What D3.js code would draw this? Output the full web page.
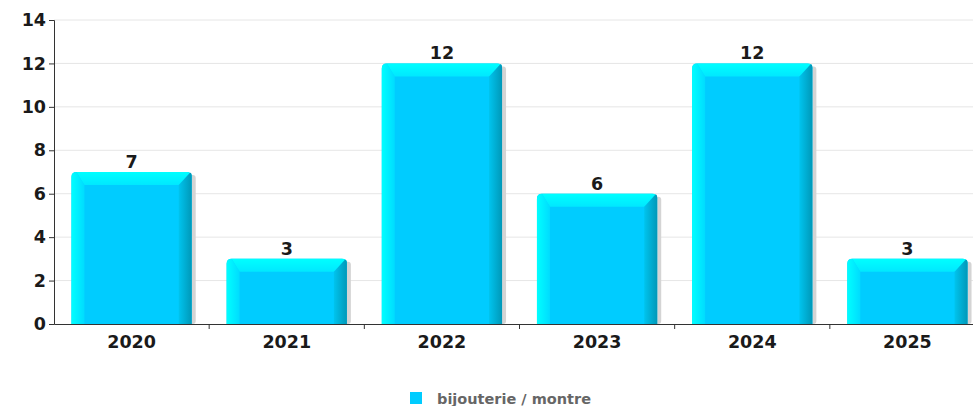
<!DOCTYPE html>
<html>
<head>
<meta charset="utf-8">
<script src="https://cdn.jsdelivr.net/npm/d3@7"></script>
<style>
  body { margin: 0; background: #fff; overflow: hidden; }
  text { font-family: "DejaVu Sans", sans-serif; }
</style>
</head>
<body>
<svg id="chart" width="973" height="406"></svg>
<script>
const categories = ['2020', '2021', '2022', '2023', '2024', '2025'];
const values = [7, 3, 12, 6, 12, 3];
const yTicks = [0, 2, 4, 6, 8, 10, 12, 14];
const seriesName = 'bijouterie / montre';

(function () {
  const svg = d3.select('#chart');
  const defs = svg.append('defs');

  // plot area (runs a little past the right edge, as in the original)
  const pLeft = 54, pTop = 20, pBottom = 324, pRight = 985;
  const fs = 17.5;

  const x = d3.scaleBand().domain(categories).range([pLeft, pRight]).paddingInner(0.225).paddingOuter(0.1125);
  const y = d3.scaleLinear().domain([0, 14]).range([pBottom, pTop]);

  // gradients for the bevel
  const gLeft = defs.append('linearGradient').attr('id', 'gl').attr('x1', 0).attr('x2', 1);
  gLeft.append('stop').attr('offset', 0).attr('stop-color', '#00ffff');
  gLeft.append('stop').attr('offset', 1).attr('stop-color', '#00dcff');
  const gRight = defs.append('linearGradient').attr('id', 'gr').attr('x1', 0).attr('x2', 1);
  gRight.append('stop').attr('offset', 0).attr('stop-color', '#00c4ee');
  gRight.append('stop').attr('offset', 1).attr('stop-color', '#0098b8');
  const gTop = defs.append('linearGradient').attr('id', 'gt').attr('x1', 0).attr('x2', 0).attr('y1', 0).attr('y2', 1);
  gTop.append('stop').attr('offset', 0).attr('stop-color', '#00ffff');
  gTop.append('stop').attr('offset', 1).attr('stop-color', '#00e8ff');

  // grid
  svg.append('g').selectAll('line')
    .data(yTicks.filter(d => d > 0))
    .join('line')
    .attr('x1', pLeft).attr('x2', 973)
    .attr('y1', d => y(d)).attr('y2', d => y(d))
    .attr('stroke', '#e6e6e6').attr('stroke-width', 1);

  // y axis
  const yAxis = svg.append('g')
    .attr('transform', `translate(${pLeft},0)`)
    .call(d3.axisLeft(y).tickValues(yTicks).tickSize(5).tickPadding(3));
  yAxis.select('.domain').attr('stroke', '#333');
  yAxis.selectAll('.tick line').attr('stroke', '#333');
  yAxis.selectAll('text').attr('font-size', fs).attr('font-weight', 'bold')
    .attr('fill', '#1a1a1a').attr('font-family', '"DejaVu Sans", sans-serif');

  // bars
  const b = 13;
  const bars = svg.append('g').selectAll('g')
    .data(categories.map((c, i) => ({ c, v: values[i] })))
    .join('g');

  bars.each(function (d) {
    const g = d3.select(this);
    const x0 = x(d.c), w = x.bandwidth(), y0 = y(d.v), y1 = y(0);
    // shadow
    g.append('rect')
      .attr('x', x0 + 4).attr('y', y0 + 3).attr('width', w).attr('height', y1 - y0 - 3)
      .attr('fill', '#d4d4d4').attr('rx', 3);
    // main face
    g.append('path')
      .attr('d', `M${x0},${y1}V${y0 + 5}Q${x0},${y0} ${x0 + 5},${y0}H${x0 + w - 5}Q${x0 + w},${y0} ${x0 + w},${y0 + 5}V${y1}Z`)
      .attr('fill', '#00ccff');
    // left strip
    g.append('path')
      .attr('d', `M${x0},${y1}V${y0 + 5}Q${x0},${y0} ${x0 + 5},${y0}L${x0 + b},${y0 + b}V${y1}Z`)
      .attr('fill', 'url(#gl)');
    // top strip
    g.append('path')
      .attr('d', `M${x0 + 5},${y0}H${x0 + w - 5}Q${x0 + w},${y0} ${x0 + w},${y0 + 5}L${x0 + w - b},${y0 + b}H${x0 + b}Z`)
      .attr('fill', 'url(#gt)');
    // right strip
    g.append('path')
      .attr('d', `M${x0 + w},${y1}V${y0 + 5}Q${x0 + w},${y0} ${x0 + w - 2},${y0 + 1}L${x0 + w - b},${y0 + b}V${y1}Z`)
      .attr('fill', 'url(#gr)');
    // value label
    g.append('text')
      .attr('x', x0 + w / 2).attr('y', y0 - 4)
      .attr('text-anchor', 'middle')
      .attr('font-size', fs).attr('font-weight', 'bold').attr('fill', '#1a1a1a')
      .text(d.v);
  });

  // x axis
  const xAxis = svg.append('g')
    .attr('transform', `translate(0,${pBottom})`)
    .call(d3.axisBottom(x).tickSize(0).tickPadding(12));
  xAxis.select('.domain').attr('stroke', '#333');
  xAxis.selectAll('text').attr('font-size', fs).attr('font-weight', 'bold')
    .attr('fill', '#1a1a1a').attr('font-family', '"DejaVu Sans", sans-serif');
  // category separators
  const gap = (x.step() - x.bandwidth()) / 2;
  svg.append('g').selectAll('line')
    .data(categories.slice(1))
    .join('line')
    .attr('x1', d => x(d) - gap).attr('x2', d => x(d) - gap)
    .attr('y1', pBottom).attr('y2', pBottom + 5)
    .attr('stroke', '#333');

  // legend
  const legend = svg.append('g').attr('transform', 'translate(410,392)');
  legend.append('rect').attr('width', 12).attr('height', 12).attr('fill', '#00ccff');
  legend.append('text').attr('x', 27).attr('y', 11.5)
    .attr('font-size', 14.5).attr('font-weight', 'bold').attr('fill', '#666')
    .text(seriesName);
})();
</script>
</body>
</html>
